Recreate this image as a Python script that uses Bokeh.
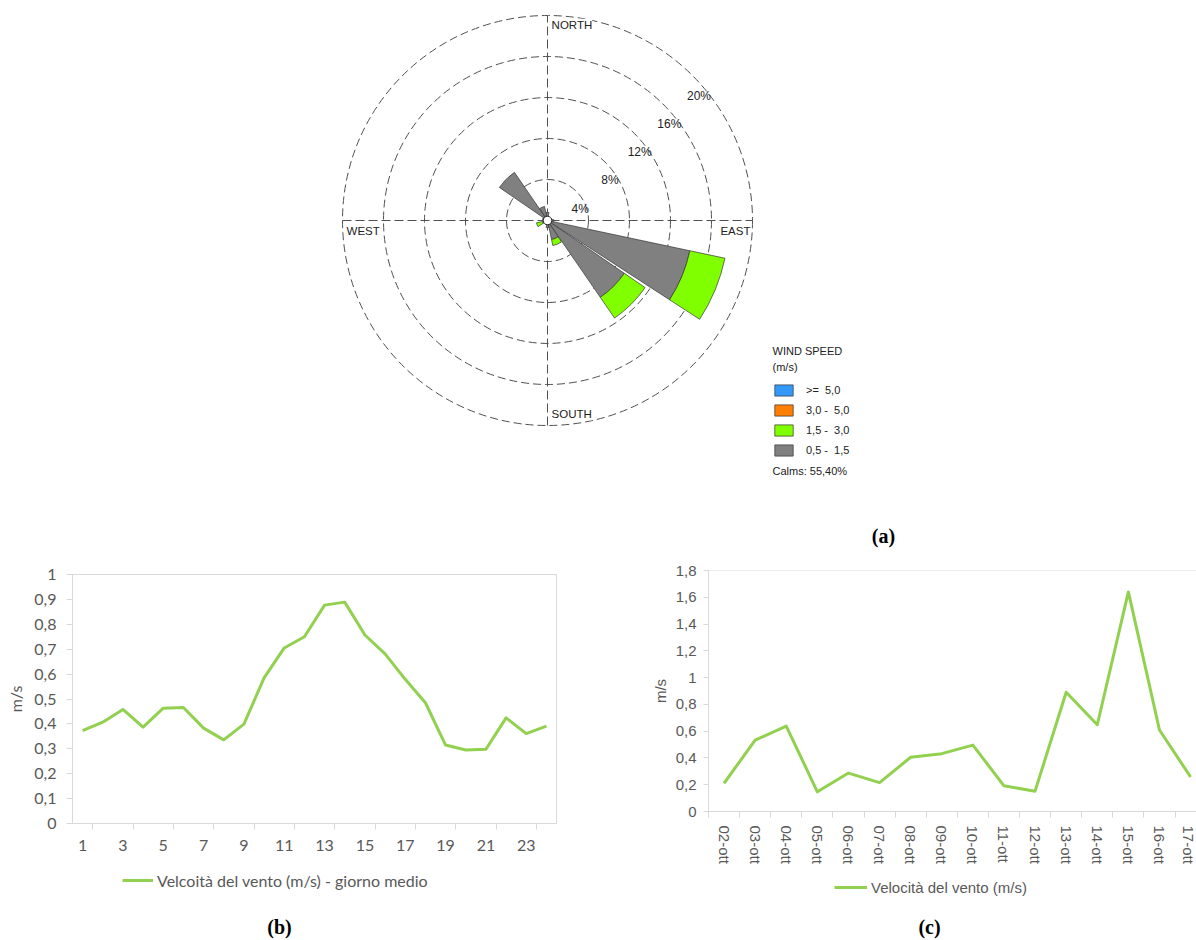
import numpy as np
from bokeh.plotting import figure
from bokeh.models import (Range1d, FixedTicker, Legend, LegendItem, Label,
                          ColumnDataSource, Span)
from bokeh.layouts import column, row
from bokeh.embed import file_html
from bokeh.resources import INLINE
from bokeh.core.properties import value

# ---------------------------------------------------------------- data
# (a) wind rose: frequency (%) for each direction and wind-speed class
directions = ["N", "NNE", "NE", "ENE", "E", "ESE", "SE", "SSE",
              "S", "SSW", "SW", "WSW", "W", "WNW", "NW", "NNW"]
bearings_deg = [0.0, 22.5, 45.0, 67.5, 90.0, 112.5, 135.0, 157.5,
                180.0, 202.5, 225.0, 247.5, 270.0, 292.5, 315.0, 337.5]
freq_05_15 = [0.8, 0.3, 0.3, 0.4, 0.6, 14.2, 9.1, 1.9,
              0.7, 0.4, 0.3, 0.5, 0.4, 0.5, 5.7, 1.4]
freq_15_30 = [0.0, 0.0, 0.0, 0.0, 0.0, 3.5, 2.45, 0.6,
              0.0, 0.0, 0.0, 0.6, 0.0, 0.0, 0.0, 0.0]
freq_30_50 = [0.0, 0.0, 0.0, 0.0, 0.0, 0.0, 0.0, 0.0,
              0.0, 0.0, 0.0, 0.0, 0.0, 0.0, 0.0, 0.0]
freq_50_up = [0.0, 0.0, 0.0, 0.0, 0.0, 0.0, 0.0, 0.0,
              0.0, 0.0, 0.0, 0.0, 0.0, 0.0, 0.0, 0.0]
class_labels = ["0,5 -  1,5", "1,5 -  3,0", "3,0 -  5,0", ">=  5,0"]
class_colors = ["#808080", "#80FF00", "#FF8000", "#3399FF"]
calms_text = "Calms: 55,40%"
ring_levels = [4, 8, 12, 16, 20]
ring_labels = ["4%", "8%", "12%", "16%", "20%"]
compass = ["NORTH", "SOUTH", "WEST", "EAST"]

# (b) mean day
hours = [1, 2, 3, 4, 5, 6, 7, 8, 9, 10, 11, 12,
         13, 14, 15, 16, 17, 18, 19, 20, 21, 22, 23, 24]
speed_day = [0.373, 0.407, 0.458, 0.387, 0.463, 0.466, 0.383, 0.336,
             0.399, 0.585, 0.705, 0.750, 0.877, 0.889, 0.757, 0.681,
             0.579, 0.485, 0.315, 0.295, 0.298, 0.424, 0.361, 0.391]
hour_labels = [1, 3, 5, 7, 9, 11, 13, 15, 17, 19, 21, 23]
yticks_b = [0.0, 0.1, 0.2, 0.3, 0.4, 0.5, 0.6, 0.7, 0.8, 0.9, 1.0]
ylabels_b = ["0", "0,1", "0,2", "0,3", "0,4", "0,5", "0,6", "0,7", "0,8", "0,9", "1"]
legend_b = "Velcoità del vento (m/s) - giorno medio"

# (c) daily values
days = ["02-ott", "03-ott", "04-ott", "05-ott", "06-ott", "07-ott", "08-ott", "09-ott",
        "10-ott", "11-ott", "12-ott", "13-ott", "14-ott", "15-ott", "16-ott", "17-ott"]
speed_daily = [0.211, 0.533, 0.638, 0.147, 0.287, 0.216, 0.405, 0.432,
               0.496, 0.192, 0.152, 0.891, 0.648, 1.640, 0.609, 0.258]
yticks_c = [0.0, 0.2, 0.4, 0.6, 0.8, 1.0, 1.2, 1.4, 1.6, 1.8]
ylabels_c = ["0", "0,2", "0,4", "0,6", "0,8", "1", "1,2", "1,4", "1,6", "1,8"]
legend_c = "Velocità del vento (m/s)"

captions = ["(a)", "(b)", "(c)"]

LINE_GREEN = "#92D050"
TXT = "#595959"
AX = "#D9D9D9"
NAN = float("nan")

cap_style = dict(x_units="screen", y_units="screen", text_font="Liberation Serif",
                 text_font_style="bold", text_font_size="20px", text_align="center",
                 text_baseline="middle", text_color="black")


def blank(width, height):
    f = figure(width=width, height=height, title=None,
               x_range=Range1d(0, 1), y_range=Range1d(0, 1),
               x_axis_location=None, y_axis_location=None,
               output_backend="svg", toolbar_location=None, min_border=0)
    f.grid.grid_line_color = None
    f.outline_line_color = None
    return f


# ---------------------------------------------------------------- (a) wind rose
PX = 10.25            # pixels per percent
W_A, H_A = 1196, 548
CX, CY = 547, 220     # rose centre in frame pixels (from left, from top)
pa = figure(width=W_A, height=H_A, title=None,
            x_range=Range1d(-CX / PX, (W_A - CX) / PX),
            y_range=Range1d(-(H_A - CY) / PX, CY / PX),
            x_axis_location=None, y_axis_location=None,
            output_backend="svg", toolbar_location=None, min_border=0)
pa.grid.grid_line_color = None
pa.outline_line_color = None

rmax = ring_levels[-1]
pa.circle(x=0, y=0, radius=ring_levels, fill_alpha=0, line_color="#505050",
          line_width=1, line_dash="8 4")
pa.segment(x0=[-rmax, 0], y0=[0, -rmax], x1=[rmax, 0], y1=[0, rmax],
           line_color="#505050", line_width=1, line_dash="9 4")

half = 10.5
b = np.array(bearings_deg)
start = np.radians(90 - b - half)
end = np.radians(90 - b + half)
cum = np.zeros(len(directions))
class_vals = [freq_05_15, freq_15_30, freq_30_50, freq_50_up]
rose_renderers = []
for vals, col in zip(class_vals, class_colors):
    v = np.array(vals, dtype=float)
    inner, outer = cum.copy(), cum + v
    m = v > 0
    if m.any():
        data = dict(inner=inner[m], outer=outer[m], start=start[m], end=end[m])
    else:  # class without observations: one empty (zero-size) sector
        data = dict(inner=[0.0], outer=[0.0], start=[0.0], end=[0.0])
    r = pa.annular_wedge(x=0, y=0, inner_radius="inner", outer_radius="outer",
                         start_angle="start", end_angle="end",
                         source=ColumnDataSource(data),
                         fill_color=col, line_color="#333333", line_width=0.7)
    rose_renderers.append(r)
    cum = outer

pa.circle(x=0, y=0, radius=0.42, fill_color="white", line_color="#222222",
          line_width=1)

ang = np.radians(43.6)
rl = np.array(ring_levels, dtype=float)
pa.text(x=rl * np.cos(ang) + 0.3, y=rl * np.sin(ang) - 1.6, text=ring_labels,
        text_align="center", text_baseline="middle", text_color="#222222",
        text_font=value("Liberation Sans"), text_font_size=value("12px"))

cfont = dict(text_font="Liberation Sans", text_font_size="11.5px",
             text_color="#222222", background_fill_color="white",
             text_baseline="middle")
pa.add_layout(Label(x=0.4, y=rmax - 0.9, text=compass[0], text_align="left", **cfont))
pa.add_layout(Label(x=0.4, y=-rmax + 1.1, text=compass[1], text_align="left", **cfont))
pa.add_layout(Label(x=-rmax + 0.4, y=-1.0, text=compass[2], text_align="left", **cfont))
pa.add_layout(Label(x=rmax - 0.2, y=-1.0, text=compass[3], text_align="right", **cfont))

items = [LegendItem(label=lab, renderers=[r])
         for lab, r in zip(class_labels[::-1], rose_renderers[::-1])]
leg_a = Legend(items=items, location=(772, 91), glyph_width=23, glyph_height=14,
               label_height=14, spacing=6, label_standoff=11, padding=0, margin=0,
               border_line_color=None, background_fill_alpha=0,
               label_text_font="Liberation Sans", label_text_font_size="11px",
               label_text_color="#222222")
pa.add_layout(leg_a)
lfont = dict(x_units="screen", y_units="screen", text_font="Liberation Sans",
             text_font_size="11px", text_color="#222222", text_baseline="middle")
pa.add_layout(Label(x=772, y=198, text="WIND SPEED", **lfont))
pa.add_layout(Label(x=772, y=182, text="(m/s)", **lfont))
pa.add_layout(Label(x=772, y=78, text=calms_text, **lfont))
pa.add_layout(Label(x=883, y=13, text=captions[0], **cap_style))

# ---------------------------------------------------------------- (b) mean day
FB = "16px"
pb = figure(width=608, height=315, title=None,
            x_range=Range1d(0.5, 24.5), y_range=Range1d(0, 1.0),
            output_backend="svg", toolbar_location=None,
            min_border_left=72, min_border_right=52, min_border_top=26,
            min_border_bottom=40)
pb.grid.grid_line_color = None
pb.outline_line_color = AX
pb.line(hours, speed_day, line_color=LINE_GREEN, line_width=3, line_join="round")

xb = pb.xaxis[0]
xb.ticker = FixedTicker(ticks=hour_labels,
                        minor_ticks=[h + 0.5 for h in hour_labels])
xb.major_tick_out = 0
xb.major_tick_in = 0
xb.minor_tick_out = 6
xb.minor_tick_in = 0
xb.minor_tick_line_color = AX
xb.axis_line_color = AX
xb.major_label_standoff = 10
xb.major_label_text_font = "Lato"
xb.major_label_text_font_size = FB
xb.major_label_text_color = TXT

yb = pb.yaxis[0]
yb.ticker = FixedTicker(ticks=yticks_b, minor_ticks=[])
yb.major_label_overrides = dict(zip(yticks_b, ylabels_b))
yb.major_tick_out = 6
yb.major_tick_in = 0
yb.major_tick_line_color = AX
yb.axis_line_color = AX
yb.major_label_standoff = 10
yb.major_label_text_font = "Lato"
yb.major_label_text_font_size = FB
yb.major_label_text_color = TXT
yb.axis_label = "m/s"
yb.axis_label_standoff = 6
yb.axis_label_text_font = "Lato"
yb.axis_label_text_font_size = FB
yb.axis_label_text_font_style = "normal"
yb.axis_label_text_color = TXT

# legend + caption strip under (b)  (its frame is aligned with the chart frame)
fb = blank(608, 77)
proxy_b = fb.line(x=[NAN], y=[NAN], line_color=LINE_GREEN, line_width=3)
fb.add_layout(Legend(items=[LegendItem(label=legend_b, renderers=[proxy_b])],
                     location=(50, 50), glyph_width=31, glyph_height=20,
                     label_height=20, label_standoff=4, padding=0, margin=0,
                     border_line_color=None, background_fill_alpha=0,
                     label_text_font="Lato", label_text_font_size=FB,
                     label_text_color=TXT))
fb.add_layout(Label(x=207, y=14, text=captions[1], **cap_style))

# ---------------------------------------------------------------- (c) daily
day_idx = list(range(1, len(days) + 1))
pc = figure(width=588, height=318, title=None,
            x_range=Range1d(0.5, 16.19), y_range=Range1d(0, 1.8),
            output_backend="svg", toolbar_location=None,
            min_border_left=100, min_border_right=0, min_border_top=22,
            min_border_bottom=52)
pc.grid.grid_line_color = None
pc.outline_line_color = None
pc.add_layout(Span(location=yticks_c[-1], dimension="width", line_color=AX, line_width=1))
pc.line(day_idx, speed_daily, line_color=LINE_GREEN, line_width=3, line_join="round")

xc = pc.xaxis[0]
xc.ticker = FixedTicker(ticks=day_idx,
                        minor_ticks=[d - 0.5 for d in day_idx] + [day_idx[-1] + 0.5])
xc.major_label_overrides = dict(zip(day_idx, days))
xc.major_label_orientation = "vertical"
xc.major_tick_out = 0
xc.major_tick_in = 0
xc.minor_tick_out = 6
xc.minor_tick_in = 0
xc.minor_tick_line_color = AX
xc.axis_line_color = AX
xc.major_label_standoff = 8
xc.major_label_text_font = "Liberation Sans"
xc.major_label_text_font_size = "15px"
xc.major_label_text_color = TXT

yc = pc.yaxis[0]
yc.ticker = FixedTicker(ticks=yticks_c, minor_ticks=[])
yc.major_label_overrides = dict(zip(yticks_c, ylabels_c))
yc.major_tick_out = 5
yc.major_tick_in = 0
yc.major_tick_line_color = AX
yc.axis_line_color = AX
yc.major_label_standoff = 7
yc.major_label_text_font = "Liberation Sans"
yc.major_label_text_font_size = "15px"
yc.major_label_text_color = TXT
yc.axis_label = "m/s"
yc.axis_label_standoff = 4
yc.axis_label_text_font = "Liberation Sans"
yc.axis_label_text_font_size = "15px"
yc.axis_label_text_font_style = "normal"
yc.axis_label_text_color = TXT

# legend + caption strip under (c)  (its frame is aligned with the chart frame)
fc = blank(588, 74)
proxy_c = fc.line(x=[NAN], y=[NAN], line_color=LINE_GREEN, line_width=3)
fc.add_layout(Legend(items=[LegendItem(label=legend_c, renderers=[proxy_c])],
                     location=(126, 43), glyph_width=33, glyph_height=20,
                     label_height=20, label_standoff=4, padding=0, margin=0,
                     border_line_color=None, background_fill_alpha=0,
                     label_text_font="Liberation Sans", label_text_font_size="15px",
                     label_text_color=TXT))
fc.add_layout(Label(x=221, y=14, text=captions[2], **cap_style))

layout = column(pa, row(column(pb, fb), column(pc, fc)))
open("out.html", "w").write(file_html(layout, INLINE))
